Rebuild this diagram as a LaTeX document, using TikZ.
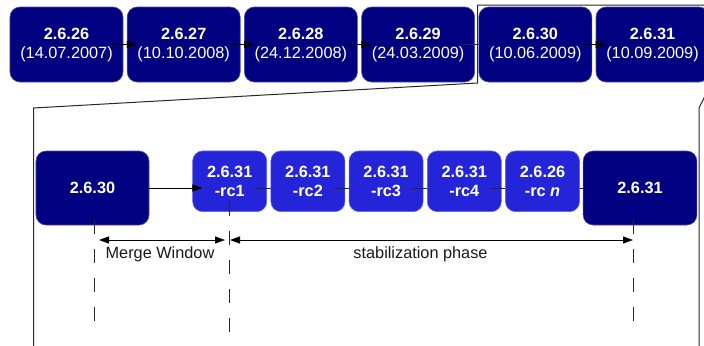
\documentclass[tikz,border=0pt]{standalone}
\usepackage{fontspec}
\setmainfont{Liberation Sans}
\usetikzlibrary{arrows.meta,calc}
\definecolor{relnavy}{RGB}{0,0,128}
\definecolor{rcblue}{RGB}{36,36,216}
\definecolor{linegray}{RGB}{40,40,40}

\begin{document}
\begin{tikzpicture}[x=1bp,y=-1bp,
  font=\fontsize{16.3bp}{19bp}\selectfont,
  release/.style={rectangle, rounded corners=10bp, fill=relnavy,
    draw=relnavy!70!white, line width=0.6bp, text=white, align=center,
    minimum width=113bp, minimum height=75bp, inner sep=0pt},
  bigrel/.style={release, minimum height=74bp},
  rcbox/.style={rectangle, rounded corners=10bp, fill=rcblue,
    draw=rcblue!70!white, line width=0.6bp, text=white, align=center,
    minimum width=74bp, minimum height=60.7bp, inner sep=0pt,
    font=\fontsize{16.3bp}{19.4bp}\selectfont\bfseries},
  flow/.style={draw=black, line width=1bp, -{Triangle[length=10bp,width=7bp]}},
  flowline/.style={draw=linegray, line width=1bp},
  dimarrow/.style={draw=black, line width=1bp,
    {Triangle[length=10bp,width=7bp]}-{Triangle[length=10bp,width=7bp]}},
  marker/.style={draw=linegray, line width=1bp, dash pattern=on 14bp off 15bp},
  frame/.style={draw=linegray, line width=1bp},
  lbl/.style={text=black!90, inner sep=0pt, anchor=base}
]
\useasboundingbox (0,0) rectangle (704,345);

% release timeline
\node[release] (r26) at (66.5,44.5)  {\textbf{2.6.26}\\(14.07.2007)};
\node[release] (r27) at (183.7,44.5) {\textbf{2.6.27}\\(10.10.2008)};
\node[release] (r28) at (300.9,44.5) {\textbf{2.6.28}\\(24.12.2008)};
\node[release] (r29) at (418.1,44.5) {\textbf{2.6.29}\\(24.03.2009)};
\node[release] (r30) at (535.3,44.5) {\textbf{2.6.30}\\(10.06.2009)};
\node[release] (r31) at (652.5,44.5) {\textbf{2.6.31}\\(10.09.2009)};

\draw[flow] ($(r26.east)+(-11,0)$) -- ($(r27.west)+(10,0)$);
\draw[flow] ($(r27.east)+(-11,0)$) -- ($(r28.west)+(10,0)$);
\draw[flow] ($(r28.east)+(-11,0)$) -- ($(r29.west)+(10,0)$);
\draw[flowline] ($(r29.east)+(-12,0)$) -- (r30.west);
\draw[flow] ($(r30.east)+(-11,0)$) -- ($(r31.west)+(10,0)$);

% enlarged cycle of 2.6.31
\node[bigrel, font=\fontsize{16.3bp}{19bp}\selectfont\bfseries] (b30) at (92.5,188) {2.6.30};
\node[rcbox] (rc1) at (229.7,181.3) {2.6.31\\-rc1};
\node[rcbox] (rc2) at (307.9,181.3) {2.6.31\\-rc2};
\node[rcbox] (rc3) at (386.1,181.3) {2.6.31\\-rc3};
\node[rcbox] (rc4) at (464.3,181.3) {2.6.31\\-rc4};
\node[rcbox] (rcn) at (542.5,181.3) {2.6.26\\-rc \textit{n}};
\node[bigrel, minimum width=113.7bp, font=\fontsize{16.3bp}{19bp}\selectfont\bfseries] (b31) at (640,188) {2.6.31};

\draw[flow] (b30.east) -- ($(rc1.west|-b30.east)+(10,0)$);
\draw[flowline] ($(rc1.east|-b30.east)+(-11,0)$) -- (rc2.west|-b30.east);
\draw[flowline] ($(rc2.east|-b30.east)+(-11,0)$) -- (rc3.west|-b30.east);
\draw[flowline] ($(rc3.east|-b30.east)+(-11,0)$) -- (rc4.west|-b30.east);
\draw[flowline] ($(rc4.east|-b30.east)+(-11,0)$) -- (rcn.west|-b30.east);
\draw[flowline] (rcn.east|-b31.west) -- (b31.west);

% magnification outline
\draw[frame] (33.5,350) -- (33.5,108) -- (477.7,83) -- (477.7,5)
  -- (711.5,5) -- (711.5,83) -- (699,108) -- (699,350);

% phase markers
\coordinate (d1a) at (94.5,220);  \coordinate (d1b) at (94.5,326);
\coordinate (d2a) at (229,202);   \coordinate (d2b) at (229,332);
\coordinate (d3a) at (633,220);   \coordinate (d3b) at (633,327);
\draw[marker] (d1a) -- (d1b);
\draw[marker] (d2a) -- (d2b);
\draw[marker] (d3a) -- (d3b);

\coordinate (mwL) at (99,240);  \coordinate (mwR) at (225,240);
\coordinate (spL) at (230,240); \coordinate (spR) at (633,240);
\draw[dimarrow] (mwL) -- (mwR);
\draw[dimarrow] (spL) -- (spR);

\node[lbl] (mw) at (160,258.5) {Merge Window};
\node[lbl] (sp) at (420.5,258.5) {stabilization phase};
\end{tikzpicture}
\end{document}
